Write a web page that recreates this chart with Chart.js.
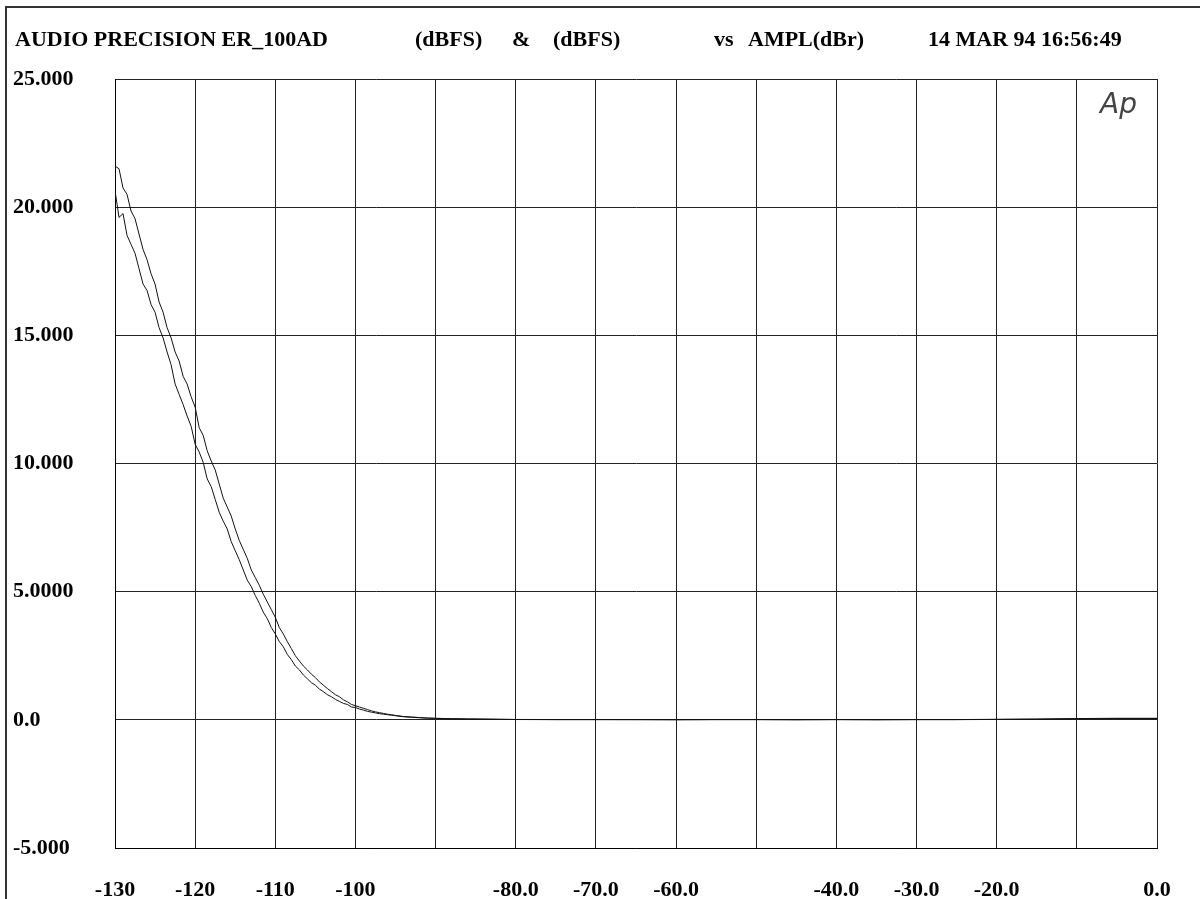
<!DOCTYPE html>
<html>
<head>
<meta charset="utf-8">
<title>ER_100AD dBFS vs AMPL</title>
<script src="https://cdn.jsdelivr.net/npm/chart.js@4.4.1/dist/chart.umd.min.js"></script>
<style>
  html, body { margin: 0; padding: 0; background: #fff; }
  #wrap { width: 1200px; height: 899px; }
</style>
</head>
<body>
<div id="wrap"><canvas id="apChart" width="1200" height="899"></canvas></div>
<script>
// generator amplitude (dBr)
var amplDbr = [
  -130, -129.5, -129, -128.5, -128, -127.5, -127, -126.5, -126, -125.5,
  -125, -124.5, -124, -123.5, -123, -122.5, -122, -121.5, -121, -120.5,
  -120, -119.5, -119, -118.5, -118, -117.5, -117, -116.5, -116, -115.5,
  -115, -114.5, -114, -113.5, -113, -112.5, -112, -111.5, -111, -110.5,
  -110, -109.5, -109, -108.5, -108, -107.5, -107, -106.5, -106, -105.5,
  -105, -104.5, -104, -103.5, -103, -102.5, -102, -101.5, -101, -100.5,
  -100, -99.5, -99, -98.5, -98, -97.5, -97, -96.5, -96, -95.5,
  -95, -94, -93, -92, -91, -90, -88, -86, -84, -82,
  -80, -75, -70, -65, -60, -55, -50, -45, -40, -35,
  -30, -25, -20, -15, -10, -5, 0
];

// channel A reading (dBFS)
var chanA = [
  21.6, 21.5, 20.75, 20.5, 19.85, 19.55, 18.95, 18.35, 17.95, 17.4,
  17.0, 16.3, 15.9, 15.3, 14.9, 14.35, 14.0, 13.4, 13.1, 12.6,
  12.2, 11.4, 11.1, 10.5, 10.1, 9.75, 9.2, 8.65, 8.3, 7.95,
  7.45, 7.0, 6.65, 6.3, 5.85, 5.55, 5.25, 4.9, 4.6, 4.3,
  4.0, 3.6, 3.35, 3.05, 2.78, 2.5, 2.3, 2.1, 1.95, 1.78,
  1.65, 1.48, 1.35, 1.22, 1.1, 0.98, 0.9, 0.78, 0.7, 0.6,
  0.55, 0.5, 0.45, 0.4, 0.35, 0.31, 0.28, 0.25, 0.22, 0.2,
  0.17, 0.13, 0.11, 0.09, 0.07, 0.06, 0.045, 0.035, 0.03, 0.02,
  0.015, 0.01, 0.01, 0.01, 0.005, 0.01, 0.01, 0.005, 0.01, 0.005,
  0.01, 0.01, 0.02, 0.03, 0.05, 0.06, 0.06
];

// channel B reading (dBFS)
var chanB = [
  20.65, 19.6, 19.75, 18.9, 18.55, 18.2, 17.6, 17.0, 16.75, 16.2,
  15.9, 15.3, 14.9, 14.35, 13.85, 13.1, 12.7, 12.3, 11.85, 11.45,
  10.75, 10.45, 10.05, 9.4, 9.1, 8.6, 8.1, 7.75, 7.45, 6.95,
  6.6, 6.25, 5.85, 5.45, 5.2, 4.85, 4.55, 4.2, 3.95, 3.6,
  3.35, 3.05, 2.85, 2.55, 2.35, 2.1, 1.95, 1.75, 1.6, 1.45,
  1.35, 1.2, 1.1, 0.98, 0.9, 0.8, 0.72, 0.64, 0.6, 0.5,
  0.48, 0.42, 0.38, 0.33, 0.3, 0.27, 0.24, 0.22, 0.2, 0.18,
  0.16, 0.12, 0.1, 0.08, 0.065, 0.055, 0.04, 0.03, 0.025, 0.02,
  0.012, 0.008, 0.008, 0.006, 0.004, 0.008, 0.008, 0.004, 0.008, 0.004,
  0.008, 0.008, 0.015, 0.025, 0.04, 0.05, 0.05
];

var xTickLabels = ['-130', '-120', '-110', '-100', '', '-80.0', '-70.0',
  '-60.0', '', '-40.0', '-30.0', '-20.0', '', '0.0'];
var yTickLabels = ['-5.000', '0.0', '5.0000', '10.000', '15.000', '20.000', '25.000'];

var headerParts = [
  { text: 'AUDIO PRECISION ER_100AD', x: 15 },
  { text: '(dBFS)', x: 415 },
  { text: '&', x: 512 },
  { text: '(dBFS)', x: 553 },
  { text: 'vs', x: 714 },
  { text: 'AMPL(dBr)', x: 748 },
  { text: '14 MAR 94 16:56:49', x: 928 }
];

var serifBold = { family: '"Liberation Serif", "Times New Roman", serif', size: 22, weight: 'bold' };

function toPoints(ys) {
  return amplDbr.map(function(x, i) { return { x: x, y: ys[i] }; });
}

// page frame, header line and the Ap mark
var decorations = {
  id: 'decorations',
  afterDraw: function(chart) {
    var ctx = chart.ctx;
    var area = chart.chartArea;
    ctx.save();
    ctx.strokeStyle = '#333';
    ctx.lineWidth = 2;
    ctx.beginPath();
    ctx.moveTo(6, 899);
    ctx.lineTo(6, 7);
    ctx.lineTo(1200, 7);
    ctx.stroke();

    ctx.fillStyle = '#000';
    ctx.font = 'bold 22px "Liberation Serif", "Times New Roman", serif';
    ctx.textBaseline = 'middle';
    ctx.textAlign = 'left';
    headerParts.forEach(function(p) { ctx.fillText(p.text, p.x, 40); });

    ctx.fillStyle = '#444';
    ctx.font = 'italic 200 28px "DejaVu Sans", sans-serif';
    ctx.textBaseline = 'alphabetic';
    ctx.fillText('Ap', area.right - 57, area.top + 34);
    ctx.restore();
  }
};

var ctx = document.getElementById('apChart').getContext('2d');
var apChart = new Chart(ctx, {
  type: 'scatter',
  data: {
    datasets: [{
      label: 'A',
      data: toPoints(chanA),
      showLine: true,
      borderColor: '#111',
      borderWidth: 1,
      pointRadius: 0,
      tension: 0
    }, {
      label: 'B',
      data: toPoints(chanB),
      showLine: true,
      borderColor: '#111',
      borderWidth: 1,
      pointRadius: 0,
      tension: 0
    }]
  },
  options: {
    responsive: false,
    animation: false,
    layout: { padding: { left: 13, top: 79, right: 43, bottom: 0 } },
    plugins: {
      legend: { display: false },
      tooltip: { enabled: false }
    },
    scales: {
      x: {
        type: 'linear',
        min: -130,
        max: 0,
        afterFit: function(scale) { scale.height = 51; },
        afterBuildTicks: function(scale) {
          scale.ticks = xTickLabels.map(function(t, i) { return { value: -130 + i * 10 }; });
        },
        ticks: {
          autoSkip: false,
          maxRotation: 0,
          padding: 29,
          color: '#000',
          font: serifBold,
          callback: function(v, i) { return xTickLabels[i]; }
        },
        grid: { color: '#222', lineWidth: 1, drawTicks: false },
        border: { color: '#000', width: 1 }
      },
      y: {
        type: 'linear',
        min: -5,
        max: 25,
        afterFit: function(scale) { scale.width = 102; },
        afterBuildTicks: function(scale) {
          scale.ticks = yTickLabels.map(function(t, i) { return { value: -5 + i * 5 }; });
        },
        ticks: {
          crossAlign: 'far',
          color: '#000',
          font: serifBold,
          callback: function(v, i) { return yTickLabels[i]; }
        },
        grid: { color: '#222', lineWidth: 1, drawTicks: false },
        border: { color: '#000', width: 1 }
      }
    }
  },
  plugins: [decorations]
});
</script>
</body>
</html>
